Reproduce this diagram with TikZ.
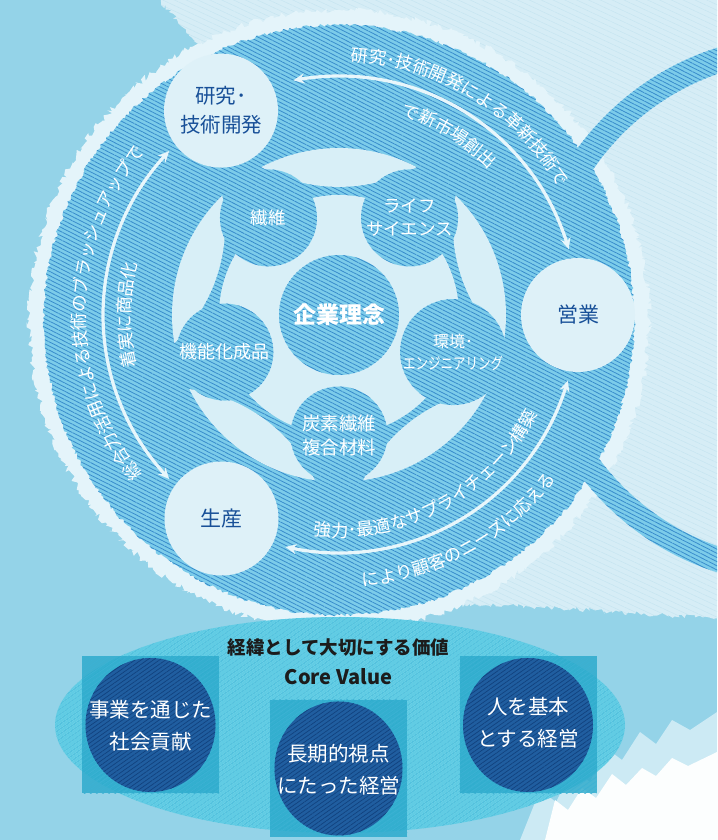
\documentclass[tikz,border=0pt]{standalone}
\usepackage{fontspec}
\usepackage{graphicx}
\usetikzlibrary{patterns.meta,decorations.text,decorations.pathmorphing,arrows.meta,bending,shapes.geometric}
\newfontfamily\jp{Noto Sans CJK JP}
\newcommand\arcfnt{\jp\fontsize{17.5}{17.5}\selectfont}
\definecolor{bgcyan}{RGB}{148,211,232}
\definecolor{bgwhite}{RGB}{214,237,246}
\definecolor{faint}{RGB}{196,228,240}
\definecolor{halo}{RGB}{228,244,250}
\definecolor{diskblue}{RGB}{124,204,234}
\definecolor{hatchblue}{RGB}{56,140,204}
\definecolor{pale}{RGB}{216,239,247}
\definecolor{palecircle}{RGB}{222,241,248}
\definecolor{arrowc}{RGB}{232,246,251}
\definecolor{navytext}{RGB}{24,80,152}
\definecolor{ellcyan}{RGB}{96,204,228}
\definecolor{ellhatch}{RGB}{60,178,212}
\definecolor{sqteal}{RGB}{40,168,202}
\definecolor{darkell}{RGB}{32,94,160}
\definecolor{darkhatch}{RGB}{18,66,126}
\definecolor{titlec}{RGB}{28,28,28}
\begin{document}
\pgfmathsetseed{7}
\begin{tikzpicture}[x=1pt,y=1pt,
  bluehatch/.style={fill=diskblue,postaction={pattern={Lines[angle=-27,distance=3.7pt,line width=0.8pt]},pattern color=hatchblue}},
  lightcirc/.style={circle,fill=palecircle,minimum size=114pt,inner sep=0pt,text=navytext,align=center,font=\jp\fontsize{20.5}{29}\selectfont},
  smallcirc/.style={circle,bluehatch,minimum size=97pt,inner sep=0pt,text=white,align=center,font=\jp\fontsize{17.5}{23}\selectfont},
  arrowline/.style={draw=arrowc,line width=3.2pt,{Stealth[length=11pt,width=10pt,bend]}-{Stealth[length=11pt,width=10pt,bend]}},
  arctext/.style={decorate,decoration={text along path,text align=center,text color=white,text={#1}}},
  torn/.style={decorate,decoration={random steps,segment length=2.5pt,amplitude=#1}},
  sqbox/.style={rectangle,minimum size=137pt,inner sep=0pt,fill=sqteal,fill opacity=0.8,postaction={pattern={Lines[angle=35,distance=3.5pt,line width=0.7pt]},pattern color=ellhatch}},
  darkfill/.style={fill=darkell,postaction={pattern={Lines[angle=35,distance=3.5pt,line width=0.7pt]},pattern color=darkhatch}},
  valuetext/.style={text=white,align=center,font=\jp\fontsize{20.5}{32}\selectfont},
]
\useasboundingbox (0,0) rectangle (717,840);
\clip (0,0) rectangle (717,840);
\coordinate (C) at (339,525);
\coordinate (D) at (339,520);
\coordinate (T) at (800,530);
% background
\fill[bgcyan] (0,0) rectangle (717,840);
\path[fill=bgwhite,torn=2.5,postaction={pattern={Lines[angle=-25,distance=5pt,line width=0.4pt]},pattern color=faint}]
  (150,850) -- (730,850) -- (730,222) -- (640,226) -- (560,232) -- (470,236) -- (400,240) -- (300,242) -- (250,740) -- cycle;
% bottom right white
\fill[halo,opacity=0.7] (520,0) -- (540,50) -- (556,38) -- (572,70) -- (590,58) -- (606,92) -- (622,80) -- (640,108) -- (656,96) -- (672,120) -- (690,110) -- (717,128) -- (717,0) -- cycle;
\fill[white!97!bgcyan] (545,0) -- (555,40) -- (568,30) -- (582,52) -- (596,42) -- (612,66) -- (626,55) -- (642,72) -- (656,64) -- (672,82) -- (688,74) -- (717,88) -- (717,0) -- cycle;
% halo and tail
\path[fill=halo,torn=3] (D) circle (310);
\path[bluehatch] (T) ++(0:275) arc[start angle=0,end angle=360,radius=275] -- ++(-25,0) arc[start angle=360,end angle=0,radius=250] -- cycle;
% core value ellipse
\path[fill=ellcyan,postaction={pattern={Lines[angle=35,distance=4pt,line width=0.7pt]},pattern color=ellhatch}] (340,115) ellipse[x radius=285,y radius=108];
% big disk
\path[bluehatch,torn=1.5] (D) circle (295);
% inner light structure
\fill[pale] (C) circle (120);
\foreach \p in {18,90,162,234,306}
  \fill[pale] (C) ++(\p-27.7:167) arc[start angle=\p-27.7,end angle=\p+27.7,radius=167]
     arc[start angle=\p+151.4,end angle=\p+208.6,radius=162] -- cycle;
% small circles
\node[smallcirc,minimum size=120pt,font=\jp\bfseries\fontsize{23}{23}\selectfont] (core) at (C) {企業理念};
\path (C) ++(126:120) node[smallcirc] (fiber) {繊維};
\path (C) ++(54:120) node[smallcirc] (life) {ライフ\\サイエンス};
\path (C) ++(-18:120) node[smallcirc,font=\jp\fontsize{16}{22}\selectfont] (env) {環境･\\\scalebox{0.78}[1]{エンジニアリング}};
\path (C) ++(-90:120) node[smallcirc,font=\jp\fontsize{18.5}{24}\selectfont] (carbon) {炭素繊維\\複合材料};
\path (C) ++(198:120) node[smallcirc,font=\jp\fontsize{18}{23}\selectfont] (func) {機能化成品};
% big light circles
\path (C) ++(120:236) node[lightcirc] (rd) {研究･\\技術開発};
\path (C) ++(0:239) node[lightcirc,font=\jp\fontsize{21}{21}\selectfont] (sales) {営業};
\path (C) ++(240:235) node[lightcirc,font=\jp\fontsize{21}{21}\selectfont] (prod) {生産};
% arrows
\path (C) ++(101:239) coordinate (ta1);
\path (C) ++(224:236) coordinate (la1);
\path (C) ++(257:238) coordinate (ba1);
\draw[arrowline] (ta1) arc[start angle=101,end angle=16,radius=239];
\draw[arrowline] (la1) arc[start angle=224,end angle=136,radius=236];
\draw[arrowline] (ba1) arc[start angle=257,end angle=344,radius=238];
% curved texts
\path[arctext={|\arcfnt|研究･技術開発による革新技術で}] (C) ++(103.7:254) arc[start angle=103.7,end angle=13.7,radius=254];
\path[arctext={|\arcfnt|で新市場創出}] (C) ++(98.5:209) arc[start angle=98.5,end angle=18.5,radius=209];
\path[arctext={|\arcfnt|総合力活用による技術のブラッシュアップで}] (C) ++(229.5:253.5) arc[start angle=229.5,end angle=129.5,radius=253.5];
\path[arctext={|\arcfnt|着実に商品化}] (C) ++(215:208.5) arc[start angle=215,end angle=145,radius=208.5];
\path[arctext={|\arcfnt|強力･最適なサプライチェーン構築}] (C) ++(253:222) arc[start angle=253,end angle=344,radius=222];
\path[arctext={|\arcfnt|により顧客のニーズに応える}] (C) ++(259:272) arc[start angle=259,end angle=339,radius=272];
% core values
\node[sqbox] (s1) at (150.5,115) {};
\node[sqbox] (s2) at (338.5,71.5) {};
\node[sqbox] (s3) at (528,115) {};
\path[darkfill] (s1.center) ellipse[x radius=65,y radius=67];
\path[darkfill] (s2.center) ellipse[x radius=64,y radius=67];
\path[darkfill] (s3.center) ellipse[x radius=65,y radius=67];
\node[valuetext] (v1) at (150.5,114) {事業を通じた\\社会貢献};
\node[valuetext] (v2) at (338.5,70) {長期的視点\\にたった経営};
\node[valuetext] (v3) at (528,117) {人を基本\\とする経営};
\node[font=\jp\bfseries\fontsize{18.5}{18.5}\selectfont,text=titlec] (title) at (338.5,192) {経緯として大切にする価値};
\node[font=\jp\bfseries\fontsize{20}{20}\selectfont,text=titlec] (cv) at (338.5,163) {Core Value};
\end{tikzpicture}
\end{document}
